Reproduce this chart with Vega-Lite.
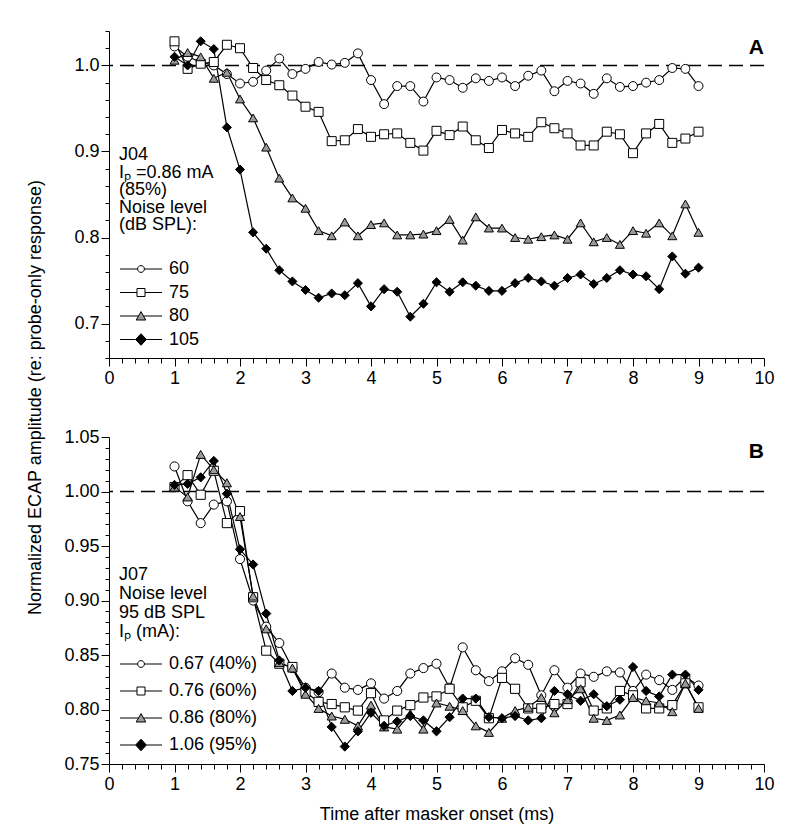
{
"$schema": "https://vega.github.io/schema/vega-lite/v6.json",
"background": "white",
"padding": {"left": 26, "top": 30, "right": 5, "bottom": 5},
"bounds": "flush",
"spacing": 79,
"config": {"view": {"stroke": null}, "font": "Liberation Sans", "axis": {"grid": false, "labelFont": "Liberation Sans", "titleFont": "Liberation Sans", "labelFontSize": 18, "titleFontSize": 18, "titleFontWeight": "normal", "labelColor": "black", "titleColor": "black", "domainColor": "black", "tickColor": "black", "domainWidth": 1, "tickWidth": 1, "labelOverlap": false, "labelFlush": false}},
"datasets": {
"A": [
{"x":1,"s":"60","y":1.022},{"x":1.2,"s":"60","y":1.010},{"x":1.4,"s":"60","y":1.004},{"x":1.6,"s":"60","y":1.000},{"x":1.8,"s":"60","y":0.990},{"x":2,"s":"60","y":0.979},{"x":2.2,"s":"60","y":0.981},{"x":2.4,"s":"60","y":0.994},{"x":2.6,"s":"60","y":1.008},{"x":2.8,"s":"60","y":0.990},{"x":3,"s":"60","y":0.996},{"x":3.2,"s":"60","y":1.004},{"x":3.4,"s":"60","y":1.001},{"x":3.6,"s":"60","y":1.003},{"x":3.8,"s":"60","y":1.014},{"x":4,"s":"60","y":0.983},{"x":4.2,"s":"60","y":0.955},{"x":4.4,"s":"60","y":0.976},{"x":4.6,"s":"60","y":0.976},{"x":4.8,"s":"60","y":0.958},{"x":5,"s":"60","y":0.986},{"x":5.2,"s":"60","y":0.983},{"x":5.4,"s":"60","y":0.974},{"x":5.6,"s":"60","y":0.985},{"x":5.8,"s":"60","y":0.982},{"x":6,"s":"60","y":0.986},{"x":6.2,"s":"60","y":0.976},{"x":6.4,"s":"60","y":0.988},{"x":6.6,"s":"60","y":0.994},{"x":6.8,"s":"60","y":0.970},{"x":7,"s":"60","y":0.982},{"x":7.2,"s":"60","y":0.979},{"x":7.4,"s":"60","y":0.967},{"x":7.6,"s":"60","y":0.985},{"x":7.8,"s":"60","y":0.975},{"x":8,"s":"60","y":0.976},{"x":8.2,"s":"60","y":0.980},{"x":8.4,"s":"60","y":0.983},{"x":8.6,"s":"60","y":0.997},{"x":8.8,"s":"60","y":0.996},{"x":9,"s":"60","y":0.976},
{"x":1,"s":"75","y":1.028},{"x":1.2,"s":"75","y":0.996},{"x":1.4,"s":"75","y":1.002},{"x":1.6,"s":"75","y":1.004},{"x":1.8,"s":"75","y":1.024},{"x":2,"s":"75","y":1.020},{"x":2.2,"s":"75","y":0.997},{"x":2.4,"s":"75","y":0.983},{"x":2.6,"s":"75","y":0.977},{"x":2.8,"s":"75","y":0.965},{"x":3,"s":"75","y":0.952},{"x":3.2,"s":"75","y":0.946},{"x":3.4,"s":"75","y":0.912},{"x":3.6,"s":"75","y":0.913},{"x":3.8,"s":"75","y":0.926},{"x":4,"s":"75","y":0.917},{"x":4.2,"s":"75","y":0.920},{"x":4.4,"s":"75","y":0.921},{"x":4.6,"s":"75","y":0.910},{"x":4.8,"s":"75","y":0.901},{"x":5,"s":"75","y":0.924},{"x":5.2,"s":"75","y":0.919},{"x":5.4,"s":"75","y":0.929},{"x":5.6,"s":"75","y":0.913},{"x":5.8,"s":"75","y":0.904},{"x":6,"s":"75","y":0.925},{"x":6.2,"s":"75","y":0.921},{"x":6.4,"s":"75","y":0.917},{"x":6.6,"s":"75","y":0.934},{"x":6.8,"s":"75","y":0.927},{"x":7,"s":"75","y":0.921},{"x":7.2,"s":"75","y":0.907},{"x":7.4,"s":"75","y":0.907},{"x":7.6,"s":"75","y":0.923},{"x":7.8,"s":"75","y":0.920},{"x":8,"s":"75","y":0.898},{"x":8.2,"s":"75","y":0.921},{"x":8.4,"s":"75","y":0.932},{"x":8.6,"s":"75","y":0.910},{"x":8.8,"s":"75","y":0.915},{"x":9,"s":"75","y":0.923},
{"x":1,"s":"80","y":1.006},{"x":1.2,"s":"80","y":1.015},{"x":1.4,"s":"80","y":1.010},{"x":1.6,"s":"80","y":0.985},{"x":1.8,"s":"80","y":0.992},{"x":2,"s":"80","y":0.961},{"x":2.2,"s":"80","y":0.939},{"x":2.4,"s":"80","y":0.905},{"x":2.6,"s":"80","y":0.869},{"x":2.8,"s":"80","y":0.846},{"x":3,"s":"80","y":0.834},{"x":3.2,"s":"80","y":0.808},{"x":3.4,"s":"80","y":0.802},{"x":3.6,"s":"80","y":0.818},{"x":3.8,"s":"80","y":0.802},{"x":4,"s":"80","y":0.815},{"x":4.2,"s":"80","y":0.817},{"x":4.4,"s":"80","y":0.803},{"x":4.6,"s":"80","y":0.803},{"x":4.8,"s":"80","y":0.804},{"x":5,"s":"80","y":0.808},{"x":5.2,"s":"80","y":0.821},{"x":5.4,"s":"80","y":0.797},{"x":5.6,"s":"80","y":0.824},{"x":5.8,"s":"80","y":0.811},{"x":6,"s":"80","y":0.811},{"x":6.2,"s":"80","y":0.800},{"x":6.4,"s":"80","y":0.798},{"x":6.6,"s":"80","y":0.801},{"x":6.8,"s":"80","y":0.803},{"x":7,"s":"80","y":0.798},{"x":7.2,"s":"80","y":0.817},{"x":7.4,"s":"80","y":0.795},{"x":7.6,"s":"80","y":0.800},{"x":7.8,"s":"80","y":0.792},{"x":8,"s":"80","y":0.808},{"x":8.2,"s":"80","y":0.805},{"x":8.4,"s":"80","y":0.817},{"x":8.6,"s":"80","y":0.802},{"x":8.8,"s":"80","y":0.839},{"x":9,"s":"80","y":0.806},
{"x":1,"s":"105","y":1.010},{"x":1.2,"s":"105","y":1.000},{"x":1.4,"s":"105","y":1.028},{"x":1.6,"s":"105","y":1.019},{"x":1.8,"s":"105","y":0.928},{"x":2,"s":"105","y":0.879},{"x":2.2,"s":"105","y":0.806},{"x":2.4,"s":"105","y":0.787},{"x":2.6,"s":"105","y":0.762},{"x":2.8,"s":"105","y":0.749},{"x":3,"s":"105","y":0.739},{"x":3.2,"s":"105","y":0.730},{"x":3.4,"s":"105","y":0.735},{"x":3.6,"s":"105","y":0.733},{"x":3.8,"s":"105","y":0.747},{"x":4,"s":"105","y":0.720},{"x":4.2,"s":"105","y":0.740},{"x":4.4,"s":"105","y":0.737},{"x":4.6,"s":"105","y":0.708},{"x":4.8,"s":"105","y":0.723},{"x":5,"s":"105","y":0.748},{"x":5.2,"s":"105","y":0.737},{"x":5.4,"s":"105","y":0.748},{"x":5.6,"s":"105","y":0.744},{"x":5.8,"s":"105","y":0.738},{"x":6,"s":"105","y":0.738},{"x":6.2,"s":"105","y":0.747},{"x":6.4,"s":"105","y":0.753},{"x":6.6,"s":"105","y":0.749},{"x":6.8,"s":"105","y":0.744},{"x":7,"s":"105","y":0.753},{"x":7.2,"s":"105","y":0.757},{"x":7.4,"s":"105","y":0.746},{"x":7.6,"s":"105","y":0.753},{"x":7.8,"s":"105","y":0.762},{"x":8,"s":"105","y":0.757},{"x":8.2,"s":"105","y":0.755},{"x":8.4,"s":"105","y":0.740},{"x":8.6,"s":"105","y":0.778},{"x":8.8,"s":"105","y":0.758},{"x":9,"s":"105","y":0.765}
],
"B": [
{"x":1,"s":"0.67 (40%)","y":1.023},{"x":1.2,"s":"0.67 (40%)","y":0.991},{"x":1.4,"s":"0.67 (40%)","y":0.971},{"x":1.6,"s":"0.67 (40%)","y":0.988},{"x":1.8,"s":"0.67 (40%)","y":0.991},{"x":2,"s":"0.67 (40%)","y":0.938},{"x":2.2,"s":"0.67 (40%)","y":0.900},{"x":2.4,"s":"0.67 (40%)","y":0.876},{"x":2.6,"s":"0.67 (40%)","y":0.861},{"x":2.8,"s":"0.67 (40%)","y":0.838},{"x":3,"s":"0.67 (40%)","y":0.820},{"x":3.2,"s":"0.67 (40%)","y":0.816},{"x":3.4,"s":"0.67 (40%)","y":0.833},{"x":3.6,"s":"0.67 (40%)","y":0.820},{"x":3.8,"s":"0.67 (40%)","y":0.818},{"x":4,"s":"0.67 (40%)","y":0.824},{"x":4.2,"s":"0.67 (40%)","y":0.810},{"x":4.4,"s":"0.67 (40%)","y":0.817},{"x":4.6,"s":"0.67 (40%)","y":0.833},{"x":4.8,"s":"0.67 (40%)","y":0.838},{"x":5,"s":"0.67 (40%)","y":0.842},{"x":5.2,"s":"0.67 (40%)","y":0.820},{"x":5.4,"s":"0.67 (40%)","y":0.857},{"x":5.6,"s":"0.67 (40%)","y":0.836},{"x":5.8,"s":"0.67 (40%)","y":0.826},{"x":6,"s":"0.67 (40%)","y":0.835},{"x":6.2,"s":"0.67 (40%)","y":0.847},{"x":6.4,"s":"0.67 (40%)","y":0.841},{"x":6.6,"s":"0.67 (40%)","y":0.813},{"x":6.8,"s":"0.67 (40%)","y":0.836},{"x":7,"s":"0.67 (40%)","y":0.820},{"x":7.2,"s":"0.67 (40%)","y":0.833},{"x":7.4,"s":"0.67 (40%)","y":0.830},{"x":7.6,"s":"0.67 (40%)","y":0.835},{"x":7.8,"s":"0.67 (40%)","y":0.834},{"x":8,"s":"0.67 (40%)","y":0.817},{"x":8.2,"s":"0.67 (40%)","y":0.832},{"x":8.4,"s":"0.67 (40%)","y":0.827},{"x":8.6,"s":"0.67 (40%)","y":0.818},{"x":8.8,"s":"0.67 (40%)","y":0.830},{"x":9,"s":"0.67 (40%)","y":0.822},
{"x":1,"s":"0.76 (60%)","y":1.004},{"x":1.2,"s":"0.76 (60%)","y":1.015},{"x":1.4,"s":"0.76 (60%)","y":0.997},{"x":1.6,"s":"0.76 (60%)","y":1.019},{"x":1.8,"s":"0.76 (60%)","y":0.971},{"x":2,"s":"0.76 (60%)","y":0.982},{"x":2.2,"s":"0.76 (60%)","y":0.903},{"x":2.4,"s":"0.76 (60%)","y":0.854},{"x":2.6,"s":"0.76 (60%)","y":0.842},{"x":2.8,"s":"0.76 (60%)","y":0.839},{"x":3,"s":"0.76 (60%)","y":0.816},{"x":3.2,"s":"0.76 (60%)","y":0.807},{"x":3.4,"s":"0.76 (60%)","y":0.805},{"x":3.6,"s":"0.76 (60%)","y":0.802},{"x":3.8,"s":"0.76 (60%)","y":0.799},{"x":4,"s":"0.76 (60%)","y":0.815},{"x":4.2,"s":"0.76 (60%)","y":0.790},{"x":4.4,"s":"0.76 (60%)","y":0.799},{"x":4.6,"s":"0.76 (60%)","y":0.804},{"x":4.8,"s":"0.76 (60%)","y":0.811},{"x":5,"s":"0.76 (60%)","y":0.812},{"x":5.2,"s":"0.76 (60%)","y":0.819},{"x":5.4,"s":"0.76 (60%)","y":0.802},{"x":5.6,"s":"0.76 (60%)","y":0.808},{"x":5.8,"s":"0.76 (60%)","y":0.792},{"x":6,"s":"0.76 (60%)","y":0.829},{"x":6.2,"s":"0.76 (60%)","y":0.819},{"x":6.4,"s":"0.76 (60%)","y":0.801},{"x":6.6,"s":"0.76 (60%)","y":0.801},{"x":6.8,"s":"0.76 (60%)","y":0.805},{"x":7,"s":"0.76 (60%)","y":0.805},{"x":7.2,"s":"0.76 (60%)","y":0.825},{"x":7.4,"s":"0.76 (60%)","y":0.799},{"x":7.6,"s":"0.76 (60%)","y":0.801},{"x":7.8,"s":"0.76 (60%)","y":0.817},{"x":8,"s":"0.76 (60%)","y":0.813},{"x":8.2,"s":"0.76 (60%)","y":0.801},{"x":8.4,"s":"0.76 (60%)","y":0.801},{"x":8.6,"s":"0.76 (60%)","y":0.804},{"x":8.8,"s":"0.76 (60%)","y":0.824},{"x":9,"s":"0.76 (60%)","y":0.802},
{"x":1,"s":"0.86 (80%)","y":1.004},{"x":1.2,"s":"0.86 (80%)","y":0.995},{"x":1.4,"s":"0.86 (80%)","y":1.034},{"x":1.6,"s":"0.86 (80%)","y":1.020},{"x":1.8,"s":"0.86 (80%)","y":1.008},{"x":2,"s":"0.86 (80%)","y":0.977},{"x":2.2,"s":"0.86 (80%)","y":0.904},{"x":2.4,"s":"0.86 (80%)","y":0.874},{"x":2.6,"s":"0.86 (80%)","y":0.843},{"x":2.8,"s":"0.86 (80%)","y":0.838},{"x":3,"s":"0.86 (80%)","y":0.814},{"x":3.2,"s":"0.86 (80%)","y":0.801},{"x":3.4,"s":"0.86 (80%)","y":0.794},{"x":3.6,"s":"0.86 (80%)","y":0.791},{"x":3.8,"s":"0.86 (80%)","y":0.785},{"x":4,"s":"0.86 (80%)","y":0.804},{"x":4.2,"s":"0.86 (80%)","y":0.784},{"x":4.4,"s":"0.86 (80%)","y":0.782},{"x":4.6,"s":"0.86 (80%)","y":0.796},{"x":4.8,"s":"0.86 (80%)","y":0.782},{"x":5,"s":"0.86 (80%)","y":0.806},{"x":5.2,"s":"0.86 (80%)","y":0.803},{"x":5.4,"s":"0.86 (80%)","y":0.799},{"x":5.6,"s":"0.86 (80%)","y":0.785},{"x":5.8,"s":"0.86 (80%)","y":0.779},{"x":6,"s":"0.86 (80%)","y":0.792},{"x":6.2,"s":"0.86 (80%)","y":0.799},{"x":6.4,"s":"0.86 (80%)","y":0.802},{"x":6.6,"s":"0.86 (80%)","y":0.811},{"x":6.8,"s":"0.86 (80%)","y":0.797},{"x":7,"s":"0.86 (80%)","y":0.809},{"x":7.2,"s":"0.86 (80%)","y":0.819},{"x":7.4,"s":"0.86 (80%)","y":0.792},{"x":7.6,"s":"0.86 (80%)","y":0.790},{"x":7.8,"s":"0.86 (80%)","y":0.795},{"x":8,"s":"0.86 (80%)","y":0.811},{"x":8.2,"s":"0.86 (80%)","y":0.808},{"x":8.4,"s":"0.86 (80%)","y":0.806},{"x":8.6,"s":"0.86 (80%)","y":0.798},{"x":8.8,"s":"0.86 (80%)","y":0.824},{"x":9,"s":"0.86 (80%)","y":0.801},
{"x":1,"s":"1.06 (95%)","y":1.006},{"x":1.2,"s":"1.06 (95%)","y":1.007},{"x":1.4,"s":"1.06 (95%)","y":1.013},{"x":1.6,"s":"1.06 (95%)","y":1.028},{"x":1.8,"s":"1.06 (95%)","y":0.998},{"x":2,"s":"1.06 (95%)","y":0.947},{"x":2.2,"s":"1.06 (95%)","y":0.933},{"x":2.4,"s":"1.06 (95%)","y":0.888},{"x":2.6,"s":"1.06 (95%)","y":0.845},{"x":2.8,"s":"1.06 (95%)","y":0.817},{"x":3,"s":"1.06 (95%)","y":0.820},{"x":3.2,"s":"1.06 (95%)","y":0.817},{"x":3.4,"s":"1.06 (95%)","y":0.784},{"x":3.6,"s":"1.06 (95%)","y":0.766},{"x":3.8,"s":"1.06 (95%)","y":0.780},{"x":4,"s":"1.06 (95%)","y":0.797},{"x":4.2,"s":"1.06 (95%)","y":0.785},{"x":4.4,"s":"1.06 (95%)","y":0.789},{"x":4.6,"s":"1.06 (95%)","y":0.794},{"x":4.8,"s":"1.06 (95%)","y":0.790},{"x":5,"s":"1.06 (95%)","y":0.780},{"x":5.2,"s":"1.06 (95%)","y":0.793},{"x":5.4,"s":"1.06 (95%)","y":0.810},{"x":5.6,"s":"1.06 (95%)","y":0.810},{"x":5.8,"s":"1.06 (95%)","y":0.793},{"x":6,"s":"1.06 (95%)","y":0.792},{"x":6.2,"s":"1.06 (95%)","y":0.794},{"x":6.4,"s":"1.06 (95%)","y":0.790},{"x":6.6,"s":"1.06 (95%)","y":0.792},{"x":6.8,"s":"1.06 (95%)","y":0.817},{"x":7,"s":"1.06 (95%)","y":0.814},{"x":7.2,"s":"1.06 (95%)","y":0.808},{"x":7.4,"s":"1.06 (95%)","y":0.814},{"x":7.6,"s":"1.06 (95%)","y":0.803},{"x":7.8,"s":"1.06 (95%)","y":0.809},{"x":8,"s":"1.06 (95%)","y":0.839},{"x":8.2,"s":"1.06 (95%)","y":0.817},{"x":8.4,"s":"1.06 (95%)","y":0.812},{"x":8.6,"s":"1.06 (95%)","y":0.832},{"x":8.8,"s":"1.06 (95%)","y":0.832},{"x":9,"s":"1.06 (95%)","y":0.818}
]
},
"vconcat": [
{
"width": 655, "height": 327,
"layer": [
{"data": {"name": "A"}, "mark": {"type": "line", "color": "black", "strokeWidth": 1.2},
 "encoding": {
  "x": {"field": "x", "type": "quantitative", "scale": {"domain": [0, 10], "nice": false, "zero": false},
        "axis": {"title": null, "tickCount": 100, "labelOverlap": false, "labelBound": false, "labelFlush": false, "values": [0,0.2,0.4,0.6,0.8,1,1.2,1.4,1.6,1.8,2,2.2,2.4,2.6,2.8,3,3.2,3.4,3.6,3.8,4,4.2,4.4,4.6,4.8,5,5.2,5.4,5.6,5.8,6,6.2,6.4,6.6,6.8,7,7.2,7.4,7.6,7.8,8,8.2,8.4,8.6,8.8,9,9.2,9.4,9.6,9.8,10],
                 "labelExpr": "abs(datum.value - round(datum.value)) < 0.001 ? format(datum.value, 'd') : ''",
                 "labelFontSize": {"condition": {"test": "abs(datum.value - round(datum.value)) < 0.001", "value": 18}, "value": 0},
                 "tickSize": {"condition": {"test": "abs(datum.value - round(datum.value)) < 0.001", "value": 8}, "value": 5},
                 "labelPadding": 3}},
  "y": {"field": "y", "type": "quantitative", "scale": {"domain": [0.66, 1.04], "nice": false, "zero": false},
        "axis": {"title": "Normalized ECAP amplitude (re: probe-only response)", "titleX": -69, "titleY": 366, "titleAngle": -90, "titleAlign": "center", "titleBaseline": "alphabetic",
                 "tickCount": 100, "labelOverlap": false, "labelBound": false, "labelFlush": false,
                 "values": [0.66,0.68,0.7,0.72,0.74,0.76,0.78,0.8,0.82,0.84,0.86,0.88,0.9,0.92,0.94,0.96,0.98,1,1.02,1.04],
                 "labelExpr": "abs(datum.value*10 - round(datum.value*10)) < 0.001 ? format(datum.value, '.1f') : ''",
                 "labelFontSize": {"condition": {"test": "abs(datum.value*10 - round(datum.value*10)) < 0.001", "value": 18}, "value": 0},
                 "tickSize": {"condition": {"test": "abs(datum.value*10 - round(datum.value*10)) < 0.001", "value": 8}, "value": 4},
                 "labelPadding": 2}},
  "detail": {"field": "s", "type": "nominal"}}},
{"data": {"values": [{"ref": 1}]}, "mark": {"type": "rule", "strokeDash": [14, 7], "strokeWidth": 1.5, "color": "black"},
 "encoding": {"y": {"field": "ref", "type": "quantitative", "scale": {"domain": [0.66, 1.04], "nice": false, "zero": false}}}},
{"data": {"values": [{"t": "A"}]}, "mark": {"type": "text", "align": "right", "baseline": "middle", "font": "Liberation Sans", "fontSize": 21, "fontWeight": "bold", "color": "black"},
 "encoding": {"text": {"field": "t", "type": "nominal"}, "x": {"datum": 10, "type": "quantitative"}, "y": {"datum": 1.02, "type": "quantitative"}}},
{"data": {"name": "A"}, "mark": {"type": "point", "filled": true, "stroke": "black", "strokeWidth": 1, "opacity": 1},
 "encoding": {
  "x": {"field": "x", "type": "quantitative", "scale": {"domain": [0, 10], "nice": false, "zero": false}},
  "y": {"field": "y", "type": "quantitative", "scale": {"domain": [0.66, 1.04], "nice": false, "zero": false}},
  "shape": {"field": "s", "type": "nominal", "scale": {"domain": ["60","75","80","105"], "range": ["circle","square","triangle-up","diamond"]}, "legend": null},
  "fill": {"field": "s", "type": "nominal", "scale": {"domain": ["60","75","80","105"], "range": ["white","white","#9a9a9a","black"]}, "legend": null},
  "size": {"field": "s", "type": "nominal", "scale": {"domain": ["60","75","80","105"], "range": [80,85,130,140]}, "legend": null}}},
{"data": {"name": "A"}, "transform": [{"filter": "false"}], "mark": {"type": "point", "filled": true, "strokeWidth": 1, "opacity": 1},
 "encoding": {
  "shape": {"field": "s", "type": "nominal", "scale": {"domain": ["60","75","80","105"], "range": ["M-5.25,0H-0.85M0.85,0H5.25M-0.85,0A0.85,0.85,0,1,1,0.85,0A0.85,0.85,0,1,1,-0.85,0Z","M-5.25,0H-1M1,0H5.25M-1,-1H1V1H-1Z","M-5.25,0H-0.6M0.6,0H5.25M0,-1.1L1.2,1H-1.2Z","M-5.25,0H-1.35M1.35,0H5.25M0,-1.45L1.35,0L0,1.45L-1.35,0Z"]},
    "legend": {"orient": "none", "legendX": 10, "legendY": 115, "title": ["J04", "Iₚ =0.86 mA", "(85%)", "Noise level", "(dB SPL):"], "titleFont": "Liberation Sans", "titleFontSize": 18, "titleFontWeight": "normal", "titleColor": "black", "titleLineHeight": 17.5, "titlePadding": 25, "titleLimit": 400, "labelFont": "Liberation Sans", "labelFontSize": 18, "labelColor": "black", "labelOffset": 19, "labelLimit": 400, "symbolSize": 64, "symbolOffset": 13, "symbolStrokeColor": "black", "symbolStrokeWidth": 1, "clipHeight": 20, "rowPadding": 3.5, "padding": 0}},
  "fill": {"field": "s", "type": "nominal", "scale": {"domain": ["60","75","80","105"], "range": ["white","white","#9a9a9a","black"]},
    "legend": {"orient": "none", "legendX": 10, "legendY": 115, "title": ["J04", "Iₚ =0.86 mA", "(85%)", "Noise level", "(dB SPL):"], "titleFont": "Liberation Sans", "titleFontSize": 18, "titleFontWeight": "normal", "titleColor": "black", "titleLineHeight": 17.5, "titlePadding": 25, "titleLimit": 400, "labelFont": "Liberation Sans", "labelFontSize": 18, "labelColor": "black", "labelOffset": 19, "labelLimit": 400, "symbolSize": 64, "symbolOffset": 13, "symbolStrokeColor": "black", "symbolStrokeWidth": 1, "clipHeight": 20, "rowPadding": 3.5, "padding": 0}},
  "stroke": {"field": "s", "type": "nominal", "scale": {"domain": ["60","75","80","105"], "range": ["black","black","black","black"]},
    "legend": {"orient": "none", "legendX": 10, "legendY": 115, "title": ["J04", "Iₚ =0.86 mA", "(85%)", "Noise level", "(dB SPL):"], "titleFont": "Liberation Sans", "titleFontSize": 18, "titleFontWeight": "normal", "titleColor": "black", "titleLineHeight": 17.5, "titlePadding": 25, "titleLimit": 400, "labelFont": "Liberation Sans", "labelFontSize": 18, "labelColor": "black", "labelOffset": 19, "labelLimit": 400, "symbolSize": 64, "symbolOffset": 13, "symbolStrokeColor": "black", "symbolStrokeWidth": 1, "clipHeight": 20, "rowPadding": 3.5, "padding": 0}}}}
],
"resolve": {"scale": {"shape": "independent", "fill": "independent", "stroke": "independent"}}
},
{
"width": 655, "height": 327,
"layer": [
{"data": {"name": "B"}, "mark": {"type": "line", "color": "black", "strokeWidth": 1.2},
 "encoding": {
  "x": {"field": "x", "type": "quantitative", "scale": {"domain": [0, 10], "nice": false, "zero": false},
        "axis": {"title": "Time after masker onset (ms)", "titlePadding": 12, "tickCount": 100, "labelOverlap": false, "labelBound": false, "labelFlush": false, "values": [0,0.2,0.4,0.6,0.8,1,1.2,1.4,1.6,1.8,2,2.2,2.4,2.6,2.8,3,3.2,3.4,3.6,3.8,4,4.2,4.4,4.6,4.8,5,5.2,5.4,5.6,5.8,6,6.2,6.4,6.6,6.8,7,7.2,7.4,7.6,7.8,8,8.2,8.4,8.6,8.8,9,9.2,9.4,9.6,9.8,10],
                 "labelExpr": "abs(datum.value - round(datum.value)) < 0.001 ? format(datum.value, 'd') : ''",
                 "labelFontSize": {"condition": {"test": "abs(datum.value - round(datum.value)) < 0.001", "value": 18}, "value": 0},
                 "tickSize": {"condition": {"test": "abs(datum.value - round(datum.value)) < 0.001", "value": 8}, "value": 5},
                 "labelPadding": 3}},
  "y": {"field": "y", "type": "quantitative", "scale": {"domain": [0.75, 1.05], "nice": false, "zero": false},
        "axis": {"title": null, "tickCount": 100, "labelOverlap": false, "labelBound": false, "labelFlush": false,
                 "values": [0.75,0.76,0.77,0.78,0.79,0.8,0.81,0.82,0.83,0.84,0.85,0.86,0.87,0.88,0.89,0.9,0.91,0.92,0.93,0.94,0.95,0.96,0.97,0.98,0.99,1,1.01,1.02,1.03,1.04,1.05],
                 "labelExpr": "abs(datum.value*20 - round(datum.value*20)) < 0.001 ? format(datum.value, '.2f') : ''",
                 "labelFontSize": {"condition": {"test": "abs(datum.value*20 - round(datum.value*20)) < 0.001", "value": 18}, "value": 0},
                 "tickSize": {"condition": {"test": "abs(datum.value*20 - round(datum.value*20)) < 0.001", "value": 8}, "value": 4},
                 "labelPadding": 2}},
  "detail": {"field": "s", "type": "nominal"}}},
{"data": {"values": [{"ref": 1}]}, "mark": {"type": "rule", "strokeDash": [14, 7], "strokeWidth": 1.5, "color": "black"},
 "encoding": {"y": {"field": "ref", "type": "quantitative", "scale": {"domain": [0.75, 1.05], "nice": false, "zero": false}}}},
{"data": {"values": [{"t": "B"}]}, "mark": {"type": "text", "align": "right", "baseline": "middle", "font": "Liberation Sans", "fontSize": 21, "fontWeight": "bold", "color": "black"},
 "encoding": {"text": {"field": "t", "type": "nominal"}, "x": {"datum": 10, "type": "quantitative"}, "y": {"datum": 1.036, "type": "quantitative"}}},
{"data": {"name": "B"}, "mark": {"type": "point", "filled": true, "stroke": "black", "strokeWidth": 1, "opacity": 1},
 "encoding": {
  "x": {"field": "x", "type": "quantitative", "scale": {"domain": [0, 10], "nice": false, "zero": false}},
  "y": {"field": "y", "type": "quantitative", "scale": {"domain": [0.75, 1.05], "nice": false, "zero": false}},
  "shape": {"field": "s", "type": "nominal", "scale": {"domain": ["0.67 (40%)","0.76 (60%)","0.86 (80%)","1.06 (95%)"], "range": ["circle","square","triangle-up","diamond"]}, "legend": null},
  "fill": {"field": "s", "type": "nominal", "scale": {"domain": ["0.67 (40%)","0.76 (60%)","0.86 (80%)","1.06 (95%)"], "range": ["white","white","#9a9a9a","black"]}, "legend": null},
  "size": {"field": "s", "type": "nominal", "scale": {"domain": ["0.67 (40%)","0.76 (60%)","0.86 (80%)","1.06 (95%)"], "range": [80,85,130,140]}, "legend": null}}},
{"data": {"name": "B"}, "transform": [{"filter": "false"}], "mark": {"type": "point", "filled": true, "strokeWidth": 1, "opacity": 1},
 "encoding": {
  "shape": {"field": "s", "type": "nominal", "scale": {"domain": ["0.67 (40%)","0.76 (60%)","0.86 (80%)","1.06 (95%)"], "range": ["M-5.25,0H-0.85M0.85,0H5.25M-0.85,0A0.85,0.85,0,1,1,0.85,0A0.85,0.85,0,1,1,-0.85,0Z","M-5.25,0H-1M1,0H5.25M-1,-1H1V1H-1Z","M-5.25,0H-0.6M0.6,0H5.25M0,-1.1L1.2,1H-1.2Z","M-5.25,0H-1.35M1.35,0H5.25M0,-1.45L1.35,0L0,1.45L-1.35,0Z"]},
    "legend": {"orient": "none", "legendX": 10, "legendY": 129, "title": ["J07", "Noise level", "95 dB SPL", "Iₚ (mA):"], "titleFont": "Liberation Sans", "titleFontSize": 18, "titleFontWeight": "normal", "titleColor": "black", "titleLineHeight": 19, "titlePadding": 13, "titleLimit": 400, "labelFont": "Liberation Sans", "labelFontSize": 18, "labelColor": "black", "labelOffset": 19, "labelLimit": 400, "symbolSize": 64, "symbolOffset": 13, "symbolStrokeColor": "black", "symbolStrokeWidth": 1, "clipHeight": 20, "rowPadding": 7, "padding": 0}},
  "fill": {"field": "s", "type": "nominal", "scale": {"domain": ["0.67 (40%)","0.76 (60%)","0.86 (80%)","1.06 (95%)"], "range": ["white","white","#9a9a9a","black"]},
    "legend": {"orient": "none", "legendX": 10, "legendY": 129, "title": ["J07", "Noise level", "95 dB SPL", "Iₚ (mA):"], "titleFont": "Liberation Sans", "titleFontSize": 18, "titleFontWeight": "normal", "titleColor": "black", "titleLineHeight": 19, "titlePadding": 13, "titleLimit": 400, "labelFont": "Liberation Sans", "labelFontSize": 18, "labelColor": "black", "labelOffset": 19, "labelLimit": 400, "symbolSize": 64, "symbolOffset": 13, "symbolStrokeColor": "black", "symbolStrokeWidth": 1, "clipHeight": 20, "rowPadding": 7, "padding": 0}},
  "stroke": {"field": "s", "type": "nominal", "scale": {"domain": ["0.67 (40%)","0.76 (60%)","0.86 (80%)","1.06 (95%)"], "range": ["black","black","black","black"]},
    "legend": {"orient": "none", "legendX": 10, "legendY": 129, "title": ["J07", "Noise level", "95 dB SPL", "Iₚ (mA):"], "titleFont": "Liberation Sans", "titleFontSize": 18, "titleFontWeight": "normal", "titleColor": "black", "titleLineHeight": 19, "titlePadding": 13, "titleLimit": 400, "labelFont": "Liberation Sans", "labelFontSize": 18, "labelColor": "black", "labelOffset": 19, "labelLimit": 400, "symbolSize": 64, "symbolOffset": 13, "symbolStrokeColor": "black", "symbolStrokeWidth": 1, "clipHeight": 20, "rowPadding": 7, "padding": 0}}}}
],
"resolve": {"scale": {"shape": "independent", "fill": "independent", "stroke": "independent"}}
}
]
}
